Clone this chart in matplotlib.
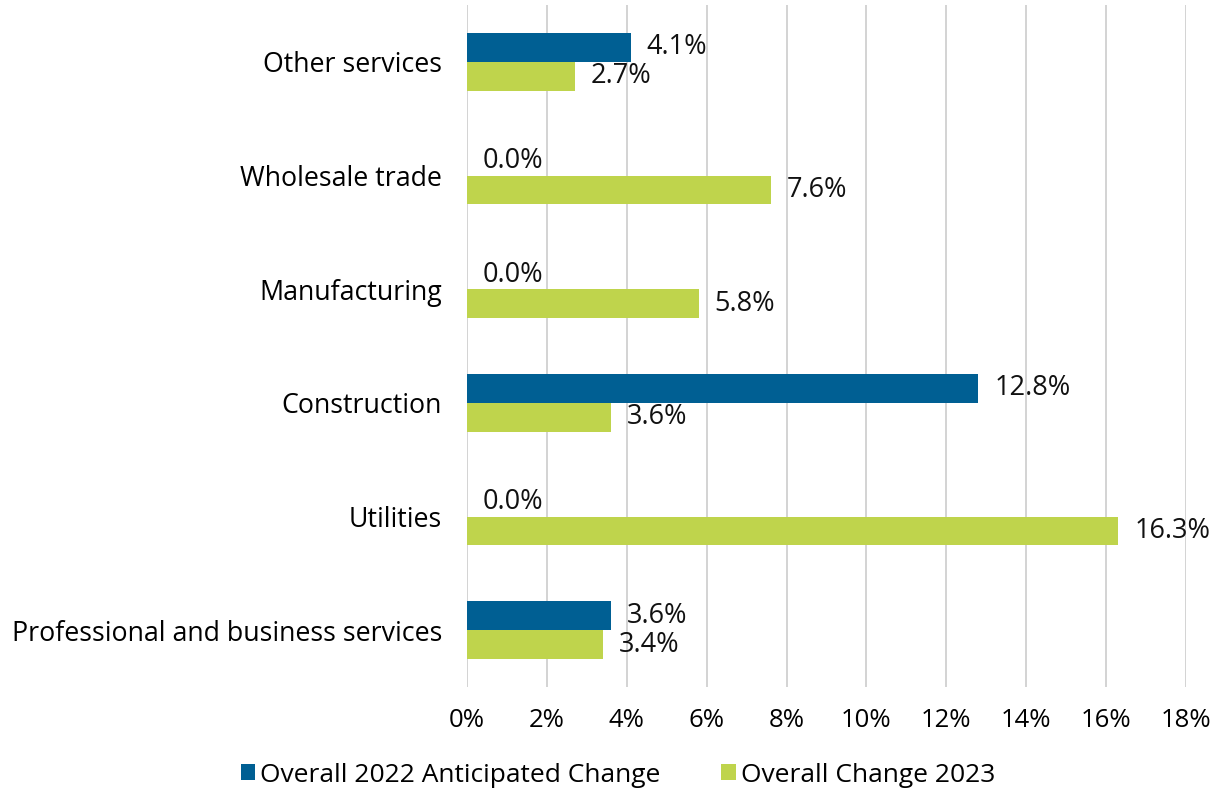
import matplotlib.pyplot as plt
import numpy as np

categories = ['Other services', 'Wholesale trade', 'Manufacturing',
              'Construction', 'Utilities', 'Professional and business services']
anticipated_2022 = [4.1, 0.0, 0.0, 12.8, 0.0, 3.6]
change_2023 = [2.7, 7.6, 5.8, 3.6, 16.3, 3.4]
xticks = [0, 2, 4, 6, 8, 10, 12, 14, 16, 18]

blue = '#005F93'
green = '#BFD44C'

plt.rcParams['font.family'] = ['Open Sans', 'DejaVu Sans']

fig = plt.figure(figsize=(12.18, 7.9), dpi=100)
ax = fig.add_axes([467 / 1218, 1 - 687 / 790, (1186 - 467) / 1218, 682 / 790])

y = np.arange(len(categories))
h = 0.255
b1 = ax.barh(y - h / 2, anticipated_2022, height=h, color=blue, label='Overall 2022 Anticipated Change')
b2 = ax.barh(y + h / 2, change_2023, height=h, color=green, label='Overall Change 2023')

for bars, vals in [(b1, anticipated_2022), (b2, change_2023)]:
    for bar, v in zip(bars, vals):
        ax.annotate(f'{v:.1f}%', (v, bar.get_y() + bar.get_height() / 2),
                    xytext=(16, 0), textcoords='offset pixels',
                    va='center', ha='left', fontsize=19.5, color='#111111')

ax.set_ylim(len(categories) - 0.5, -0.5)
ax.set_xlim(0, 18)
ax.set_xticks(xticks)
ax.set_xticklabels([f'{t}%' for t in xticks], fontsize=18.5)
ax.set_yticks(y)
ax.set_yticklabels(categories, fontsize=19.3)
ax.tick_params(axis='y', length=0, pad=18)
ax.tick_params(axis='x', length=0, pad=15)
ax.xaxis.grid(True, color='#D0D0D0', linewidth=1.3)
ax.set_axisbelow(True)
for s in ax.spines.values():
    s.set_visible(False)

fig.legend(handles=[b1, b2], loc='center', bbox_to_anchor=(618 / 1218, 1 - 775 / 790),
           ncol=2, frameon=False, fontsize=19, handlelength=0.55, handleheight=0.55,
           handletextpad=0.2, columnspacing=2.3)

fig.savefig('out.png', dpi=100)
